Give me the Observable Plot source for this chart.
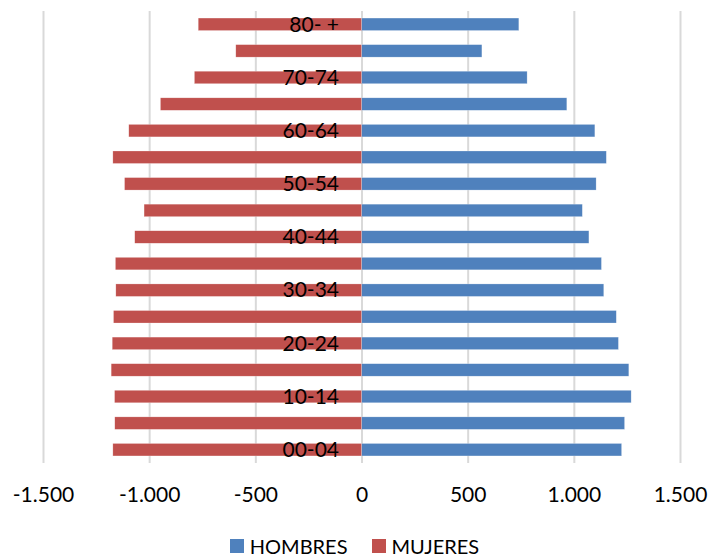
<!DOCTYPE html>
<html>
<head>
<meta charset="utf-8">
<script src="https://cdn.jsdelivr.net/npm/d3@7"></script>
<script src="https://cdn.jsdelivr.net/npm/@observablehq/plot@0.6"></script>
<style>
  html, body { margin: 0; padding: 0; background: #fff; overflow: hidden; }
  #chart { width: 709px; font-family: Lato, "Open Sans", sans-serif; }
  #chart svg { display: block; }
  .legend { display: flex; justify-content: center; align-items: center; height: 22px; line-height: 22px; margin-top: 15px; font-size: 20px; color: #000; }
  .legend .item { display: flex; align-items: center; margin: 0 12px; }
  .legend .sw { width: 14px; height: 14px; margin-right: 6px; }
</style>
</head>
<body>
<div id="chart"></div>
<script>
const categories = ["00-04","05-09","10-14","15-19","20-24","25-29","30-34","35-39","40-44","45-49","50-54","55-59","60-64","65-69","70-74","75-79","80- +"];
const hombres = [1225,1239,1270,1259,1210,1200,1141,1130,1071,1040,1105,1153,1099,967,780,567,741];
const mujeres = [1171,1162,1163,1179,1174,1168,1157,1159,1068,1024,1116,1171,1096,947,787,592,769];
const labeledCategories = ["00-04","10-14","20-24","30-34","40-44","50-54","60-64","70-74","80- +"];
const xTicks = [-1500,-1000,-500,0,500,1000,1500];
const series = ["HOMBRES","MUJERES"];
const colors = ["#4F81BD","#C0504D"];

const rows = [];
categories.forEach((c, i) => {
  rows.push({cat: c, sexo: "HOMBRES", value: hombres[i]});
  rows.push({cat: c, sexo: "MUJERES", value: -mujeres[i]});
});

const fmt = d => {
  const s = Math.abs(d).toString().replace(/\B(?=(\d{3})+(?!\d))/g, ".");
  return (d < 0 ? "-" : "") + s;
};

const plot = Plot.plot({
  width: 709,
  height: 520,
  marginLeft: 43,
  marginRight: 29,
  marginTop: 11,
  marginBottom: 57,
  style: {fontFamily: "Lato, 'Open Sans', sans-serif", fontSize: "21px", color: "#000", background: "#fff"},
  x: {domain: [-1500, 1500], ticks: xTicks, tickFormat: fmt, label: null},
  y: {domain: categories.slice().reverse(), paddingInner: 0.53, paddingOuter: 0.265, round: false, axis: null, label: null},
  color: {domain: series, range: colors},
  marks: [
    Plot.ruleX(xTicks, {stroke: "#d9d9d9", strokeWidth: 2}),
    Plot.barX(rows, {x: "value", y: "cat", fill: "sexo", inset: 0, stroke: "#ffffff", strokeOpacity: 0.5, strokeWidth: 0.5}),
    Plot.text(labeledCategories, {x: 0, y: d => d, text: d => d, dx: -23, textAnchor: "end", fill: "#000", fontSize: 21}),
    Plot.axisX({ticks: xTicks, tickFormat: fmt, tickSize: 0, tickPadding: 24, fontSize: 21, fill: "#000", label: null})
  ]
});

const chart = document.getElementById("chart");
chart.appendChild(plot);

const legend = document.createElement("div");
legend.className = "legend";
series.forEach((s, i) => {
  const item = document.createElement("div");
  item.className = "item";
  const sw = document.createElement("span");
  sw.className = "sw";
  sw.style.background = colors[i];
  const t = document.createElement("span");
  t.textContent = s;
  item.appendChild(sw);
  item.appendChild(t);
  legend.appendChild(item);
});
chart.appendChild(legend);
</script>
</body>
</html>
